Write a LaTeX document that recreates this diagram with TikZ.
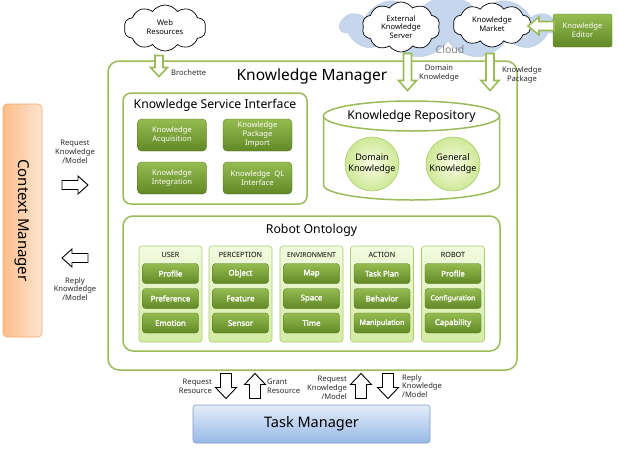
\documentclass[tikz,border=0pt]{standalone}
\usepackage{fontspec}
\setmainfont{Noto Sans}
\newfontfamily\btnbold{Noto Sans}[FakeBold=2.2]
\usetikzlibrary{shapes.symbols}
\definecolor{kmgreen}{RGB}{155,187,89}
\definecolor{btntop}{RGB}{148,188,80}
\definecolor{btnbot}{RGB}{98,136,38}
\definecolor{coltop}{RGB}{242,250,222}
\definecolor{colbot}{RGB}{212,236,164}
\definecolor{colline}{RGB}{170,205,112}
\definecolor{circin}{RGB}{248,252,228}
\definecolor{circout}{RGB}{206,232,150}
\definecolor{tmtop}{RGB}{228,237,249}
\definecolor{tmbot}{RGB}{150,184,230}
\definecolor{tmline}{RGB}{123,156,201}
\definecolor{cmleft}{RGB}{251,190,138}
\definecolor{cmright}{RGB}{253,229,208}
\definecolor{cmline}{RGB}{244,168,110}
\definecolor{cloudblue}{RGB}{198,214,236}
\definecolor{cloudline}{RGB}{184,202,228}
\definecolor{labelgray}{RGB}{40,40,40}
\tikzset{
  pics/barrow/.style n args={4}{code={
    \path[pic actions] ({-#1/2},{-#3/2}) -- ({#1/2-#4},{-#3/2}) -- ({#1/2-#4},{-#2/2}) -- ({#1/2},0) -- ({#1/2-#4},{#2/2}) -- ({#1/2-#4},{#3/2}) -- ({-#1/2},{#3/2}) -- cycle;
  }},
  blackarrow/.style={draw=black, fill=white, line width=0.9pt},
  greenarrow/.style={draw=kmgreen, fill=white, line width=1.6pt},
  lbl/.style={font=\fontsize{7.6}{8.8}\selectfont, text=labelgray, align=center, inner sep=0pt},
  greenbox/.style={draw=kmgreen, line width=1.5pt, rounded corners=9pt},
  svcbtn/.style={rounded corners=4pt, top color=btntop, bottom color=btnbot, draw=btnbot!80!black, line width=0.3pt, minimum width=69pt, minimum height=32pt, inner sep=0pt, align=center, text=white, font=\fontsize{7.6}{9}\selectfont},
  colbox/.style={rounded corners=3pt, top color=coltop, bottom color=colbot, draw=colline, line width=0.6pt, minimum width=63pt, minimum height=96pt, inner sep=0pt},
  colhead/.style={font=\fontsize{7.2}{8}\selectfont, inner sep=0pt},
  ontbtn/.style={rounded corners=3pt, top color=btntop, bottom color=btnbot, draw=btnbot!80!black, line width=0.3pt, minimum width=56pt, minimum height=20pt, inner sep=0pt, text=white, font=\btnbold\fontsize{7.8}{9}\selectfont},
  knowcirc/.style={circle, inner color=circin, outer color=circout, draw=colline, line width=0.6pt, minimum size=54pt, inner sep=0pt, align=center, font=\fontsize{9}{11}\selectfont},
  wcloud/.style={cloud, cloud puffs=10, cloud puff arc=110, draw=black, fill=white, line width=0.7pt, inner sep=0pt},
  cloudtxt/.style={font=\fontsize{7.6}{8.8}\selectfont, align=center, inner sep=0pt}
}
\begin{document}
\begin{tikzpicture}[x=1pt, y=-1pt]
\useasboundingbox (0,0) rectangle (619,448);

% cloud background
\node[cloud, cloud puffs=11, cloud puff arc=120, fill=cloudblue, draw=cloudline, line width=0.5pt, minimum width=215pt, minimum height=62pt, inner sep=0pt] (cloudbg) at (448,27) {};
\node[font=\fontsize{10.5}{12}\selectfont, text=gray, inner sep=0pt] (cloudlbl) at (450,50) {Cloud};

% clouds
\node[wcloud, minimum width=82pt, minimum height=46pt] (webc) at (165,28) {};
\node[cloudtxt] (webt) at (165,27) {Web\\Resources};
\node[wcloud, minimum width=78pt, minimum height=50pt] (extc) at (401,27) {};
\node[cloudtxt] (extt) at (401,27) {External\\Knowledge\\Server};
\node[wcloud, minimum width=78pt, minimum height=44pt] (mktc) at (492,25) {};
\node[cloudtxt] (mktt) at (492,24) {Knowledge\\Market};

% knowledge editor
\node[rounded corners=2pt, top color=btntop, bottom color=btnbot, draw=btnbot, line width=0.3pt, minimum width=59pt, minimum height=33pt, inner sep=0pt, align=center, text=white, font=\fontsize{7.6}{9}\selectfont] (editor) at (582.5,30.5) {Knowledge\\Editor};
\pic[greenarrow, rotate=180] (edarrow) at (541,26) {barrow={26}{18}{9}{11}};

% Knowledge manager
\draw[greenbox, rounded corners=11pt] (108,61) rectangle (517,370);
\node[font=\fontsize{15.5}{18}\selectfont, inner sep=0pt] (kmtitle) at (312,76) {Knowledge Manager};

% incoming green arrows
\pic[greenarrow, rotate=-90] (broarrow) at (159,66) {barrow={21}{17}{8}{9}};
\node[lbl, anchor=west] (brolbl) at (171,73) {Brochette};
\pic[greenarrow, rotate=-90] (domarrow) at (407.5,72) {barrow={37}{18}{8}{10}};
\node[lbl] (domlbl) at (439,73) {Domain\\Knowledge};
\pic[greenarrow, rotate=-90] (pkgarrow) at (490,72) {barrow={37}{18}{8}{10}};
\node[lbl] (pkglbl) at (522,75) {Knowledge\\Package};

% Knowledge service interface
\draw[greenbox, rounded corners=8pt] (123,93) rectangle (307,204);
\node[font=\fontsize{12.2}{14}\selectfont, inner sep=0pt] (ksititle) at (215,105) {Knowledge Service Interface};
\node[svcbtn] (acq) at (172,135) {Knowledge\\Acquisition};
\node[svcbtn] (pkg) at (257.5,135) {Knowledge\\Package\\Import};
\node[svcbtn] (integ) at (172,178) {Knowledge\\Integration};
\node[svcbtn] (ql) at (257.5,178) {Knowledge\ \ QL\\Interface};

% Knowledge repository cylinder
\path[fill=white] (323.5,116) -- (323.5,185) arc[start angle=180, end angle=360, x radius=88pt, y radius=15pt] -- (499.5,116) -- cycle;
\draw[draw=kmgreen, line width=1.5pt] (323.5,116) -- (323.5,185) arc[start angle=180, end angle=360, x radius=88pt, y radius=15pt] -- (499.5,116);
\draw[draw=kmgreen, line width=1.5pt, fill=white] (411.5,116) ellipse[x radius=88pt, y radius=15pt];
\node[font=\fontsize{12.2}{14}\selectfont, inner sep=0pt] (reptitle) at (411.5,116) {Knowledge Repository};
\node[knowcirc] (domk) at (372,164) {Domain\\Knowledge};
\node[knowcirc] (genk) at (453,164) {General\\Knowledge};

% Robot ontology
\draw[greenbox, rounded corners=10pt] (123,216) rectangle (500,351);
\node[font=\fontsize{12.3}{14}\selectfont, inner sep=0pt] (onttitle) at (311.5,230) {Robot Ontology};

\node[colbox] (cuser) at (170.5,294) {};
\node[colhead] at (170.5,255) {USER};
\node[ontbtn] (u1) at (170.5,273.5) {Profile};
\node[ontbtn] (u2) at (170.5,298.5) {Preference};
\node[ontbtn] (u3) at (170.5,323) {Emotion};

\node[colbox] (cperc) at (240.5,294) {};
\node[colhead] at (240.5,255) {PERCEPTION};
\node[ontbtn] (p1) at (240.5,273.5) {Object};
\node[ontbtn] (p2) at (240.5,298.5) {Feature};
\node[ontbtn] (p3) at (240.5,323) {Sensor};

\node[colbox] (cenv) at (311.5,294) {};
\node[colhead, font=\fontsize{6.8}{8}\selectfont] at (311.5,255) {ENVIRONMENT};
\node[ontbtn] (e1) at (311.5,273.5) {Map};
\node[ontbtn] (e2) at (311.5,298.5) {Space};
\node[ontbtn] (e3) at (311.5,323) {Time};

\node[colbox] (cact) at (382,294) {};
\node[colhead] at (382,255) {ACTION};
\node[ontbtn] (a1) at (382,273.5) {Task Plan};
\node[ontbtn] (a2) at (382,298.5) {Behavior};
\node[ontbtn, font=\btnbold\fontsize{7.2}{8}\selectfont] (a3) at (382,323) {Manipulation};

\node[colbox] (crob) at (453,294) {};
\node[colhead] at (453,255) {ROBOT};
\node[ontbtn] (r1) at (453,273.5) {Profile};
\node[ontbtn, font=\btnbold\fontsize{6.9}{8}\selectfont] (r2) at (453,298.5) {Configuration};
\node[ontbtn] (r3) at (453,323) {Capability};

% Context manager
\node[rounded corners=4pt, left color=cmleft, right color=cmright, draw=cmline, line width=0.6pt, minimum width=39pt, minimum height=233pt, inner sep=0pt] (cm) at (22.5,220.5) {};
\node[rotate=-90, font=\fontsize{15}{18}\selectfont, inner sep=0pt] (cmtext) at (22.5,220.5) {Context Manager};
\node[lbl] (reqkm) at (75,152) {Request\\Knowledge\\/Model};
\pic[blackarrow] (cmarrow1) at (75,185) {barrow={26}{18}{9}{10}};
\pic[blackarrow, rotate=180] (cmarrow2) at (75,258) {barrow={26}{18}{9}{10}};
\node[lbl] (repkm) at (75,289) {Reply\\Knowdedge\\/Model};

% Task manager
\node[rounded corners=3pt, top color=tmtop, bottom color=tmbot, draw=tmline, line width=0.6pt, minimum width=237pt, minimum height=38pt, inner sep=0pt, font=\fontsize{14.5}{17}\selectfont] (tm) at (311.5,424) {Task Manager};
\pic[blackarrow, rotate=-90] (tmarrow1) at (226,386) {barrow={25}{21}{11}{11}};
\pic[blackarrow, rotate=90] (tmarrow2) at (255,386) {barrow={25}{21}{11}{11}};
\pic[blackarrow, rotate=90] (tmarrow3) at (361,386) {barrow={25}{21}{11}{11}};
\pic[blackarrow, rotate=-90] (tmarrow4) at (388,386) {barrow={25}{21}{11}{11}};
\node[lbl, anchor=east, align=right] (reqres) at (212,386) {Request\\Resource};
\node[lbl, anchor=west, align=left] (grres) at (267,386) {Grant\\Resource};
\node[lbl, anchor=east, align=right] (reqkm2) at (347,388) {Request\\Knowledge\\/Model};
\node[lbl, anchor=west, align=left] (repkm2) at (402,386) {Reply\\Knowledge\\/Model};
\end{tikzpicture}
\end{document}
